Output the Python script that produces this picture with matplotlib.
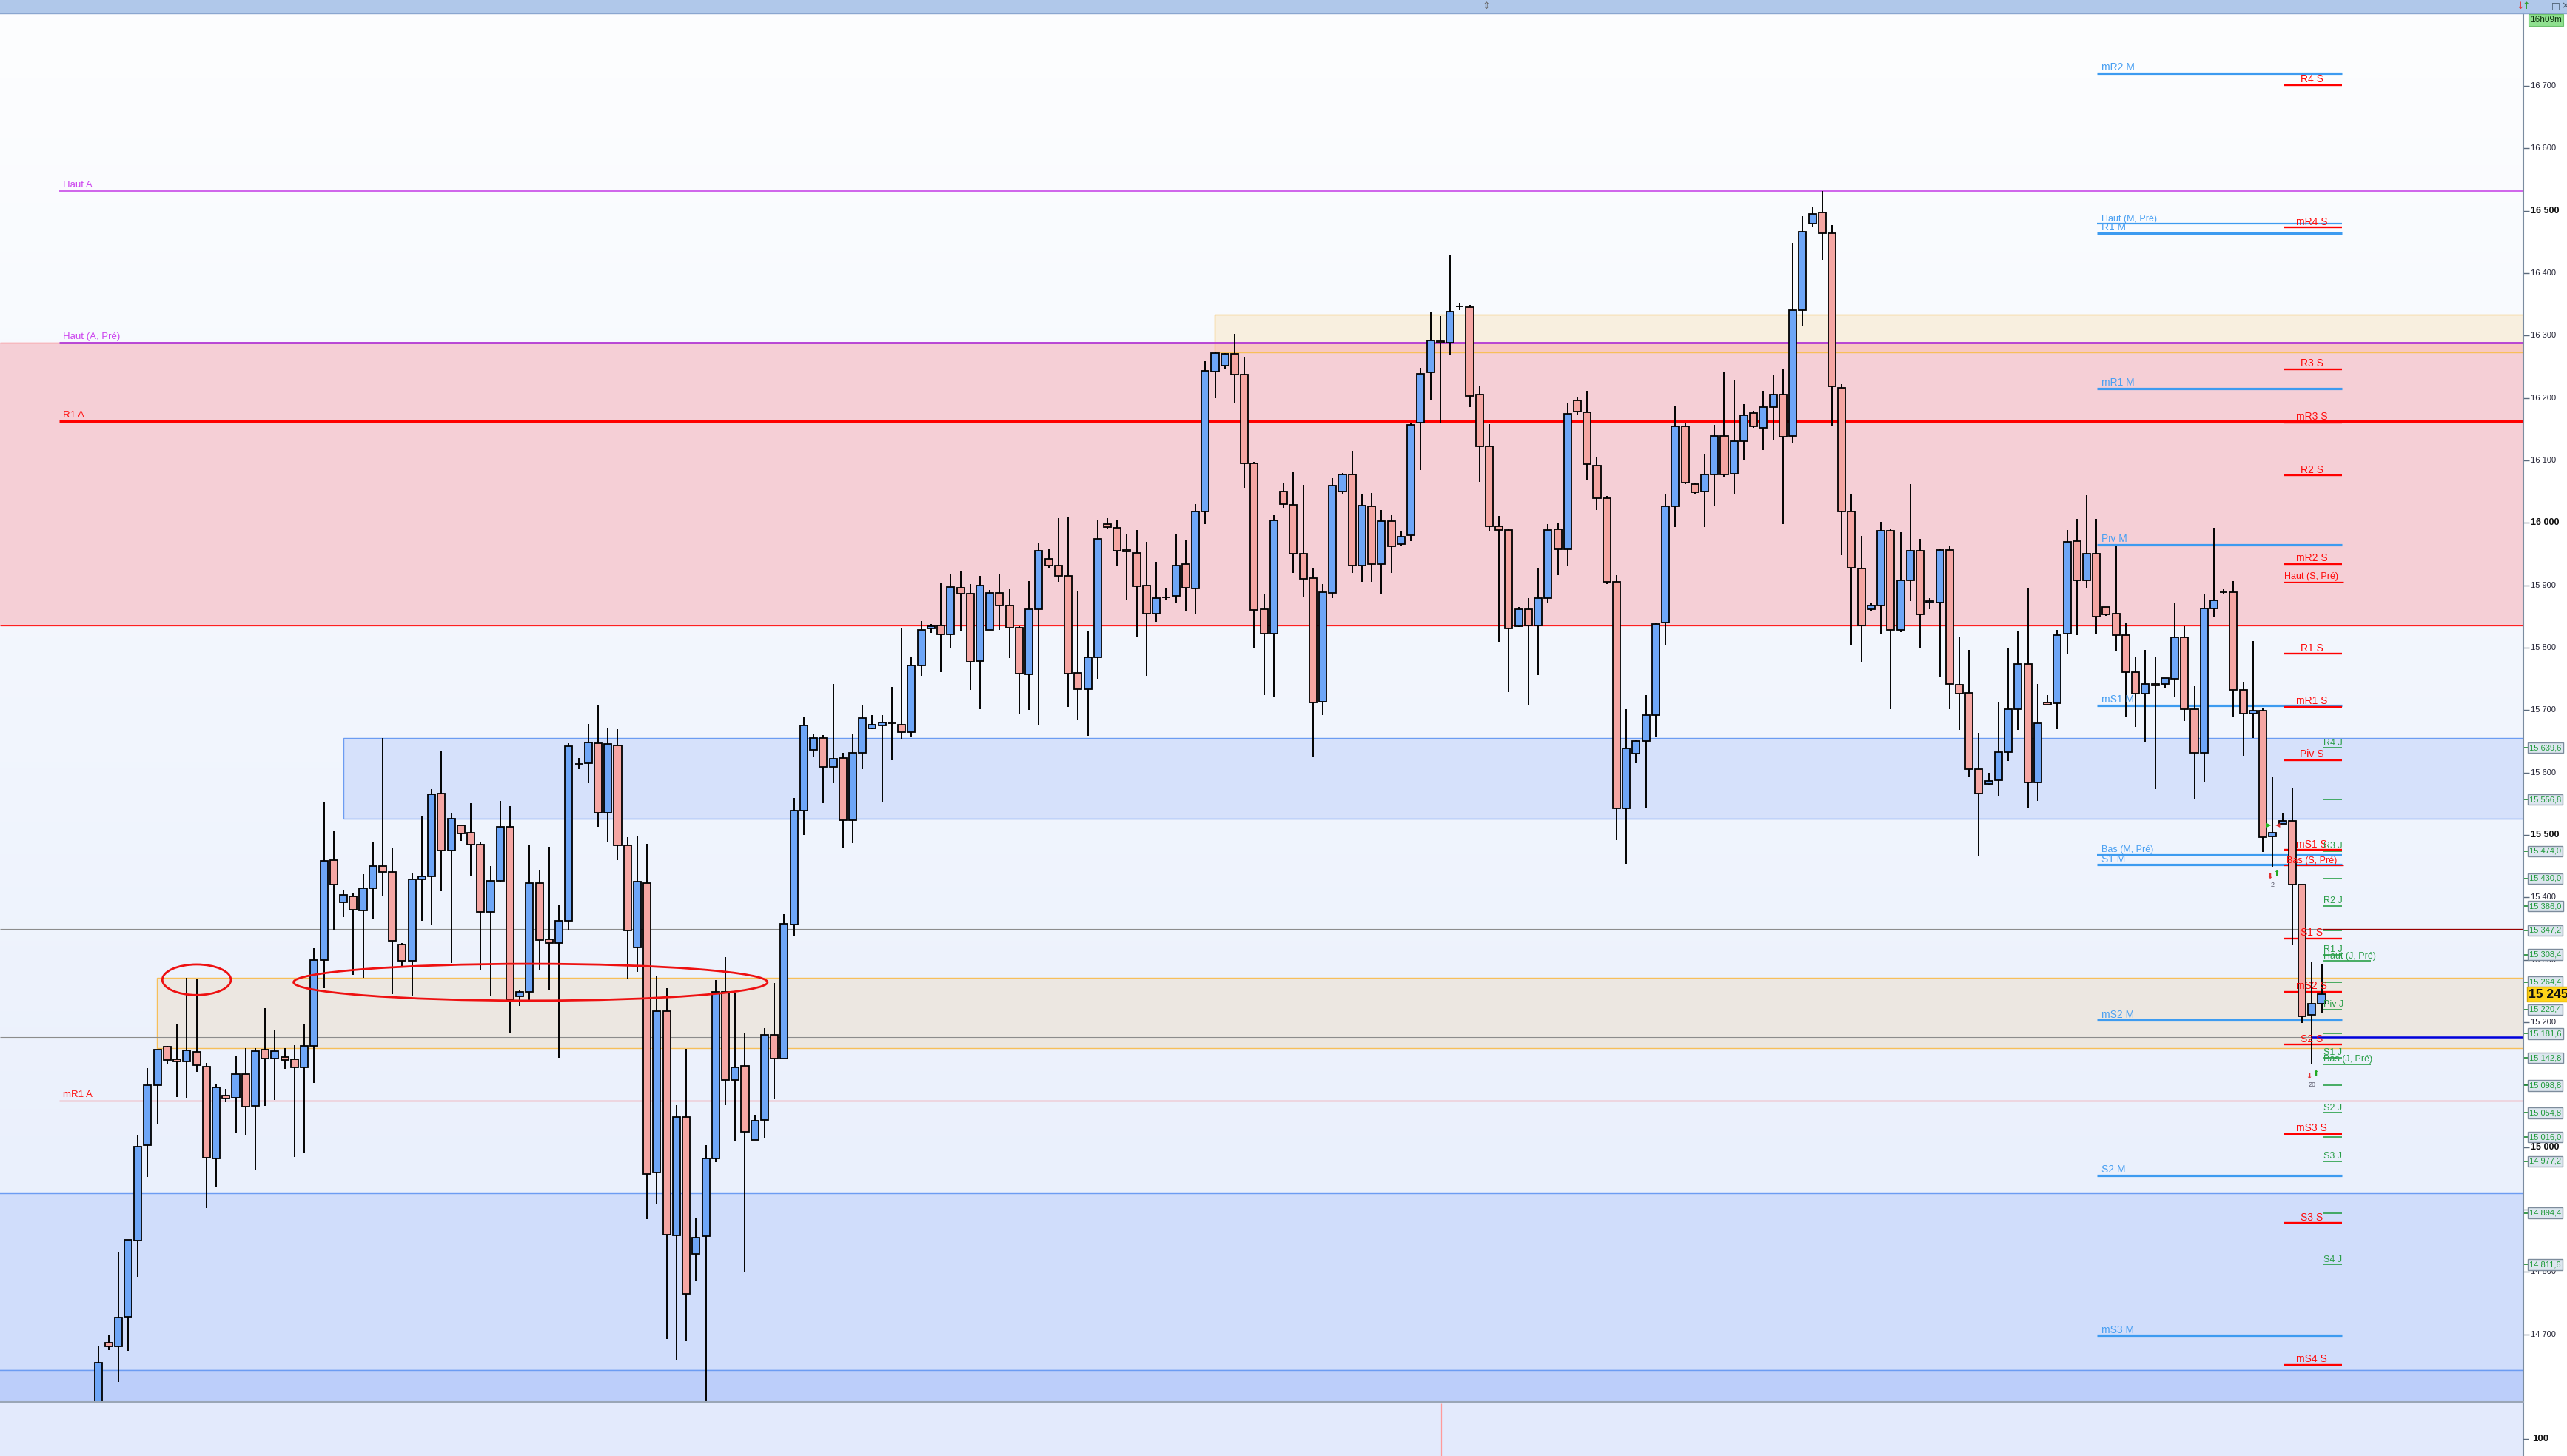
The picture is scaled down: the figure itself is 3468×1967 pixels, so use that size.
import matplotlib
matplotlib.use('Agg')
import matplotlib.pyplot as plt
from matplotlib.patches import Rectangle, Ellipse
import matplotlib.transforms as mtransforms
import numpy as np

plt.rcParams['font.family'] = ['Liberation Sans', 'DejaVu Sans']

# ---------------- DATA ----------------
opens = [14560, 14687, 14680, 14728, 14850, 15003, 15099, 15161, 15141, 15137,
         15153, 15129, 14982, 15083, 15079, 15117, 15066, 15156, 15142, 15144,
         15141, 15128, 15162, 15300, 15460, 15392, 15402, 15379, 15415, 15450,
         15441, 15325, 15298, 15429, 15434, 15566, 15475, 15515, 15503, 15484,
         15377, 15427, 15513, 15241, 15248, 15423, 15333, 15327, 15362, 15614,
         15615, 15647, 15536, 15644, 15483, 15320, 15423, 14959, 15218, 14859,
         15048, 14829, 14857, 14982, 15248, 15107, 15130, 15011, 15043, 15180,
         15142, 15357, 15539, 15636, 15655, 15609, 15623, 15524, 15631, 15671,
         15676, 15679, 15677, 15665, 15771, 15831, 15836, 15821, 15896, 15887,
         15779, 15829, 15888, 15867, 15832, 15757, 15862, 15942, 15932, 15915,
         15760, 15733, 15785, 15998, 15992, 15956, 15952, 15899, 15855, 15881,
         15883, 15934, 15895, 16018, 16242, 16252, 16271, 16238, 16095, 15862,
         15822, 16050, 16029, 15950, 15911, 15713, 15888, 16050, 16078, 15931,
         16027, 15934, 16003, 15966, 15980, 16160, 16241, 16291, 16289, 16347,
         16346, 16205, 16123, 15995, 15988, 15834, 15862, 15836, 15880, 15990,
         15958, 16196, 16177, 16092, 16039, 15906, 15543, 15630, 15651, 15692,
         15840, 16027, 16154, 16062, 16050, 16078, 16139, 16079, 16131, 16176,
         16152, 16185, 16205, 16139, 16341, 16480, 16497, 16464, 16216, 16018,
         15927, 15862, 15868, 15987, 15828, 15908, 15955, 15872, 15872, 15957,
         15741, 15728, 15606, 15582, 15588, 15633, 15701, 15774, 15584, 15712,
         15711, 15822, 15971, 15908, 15950, 15865, 15854, 15820, 15761, 15727,
         15742, 15742, 15750, 15817, 15701, 15631, 15863, 15889, 15889, 15732,
         15694, 15699, 15497, 15518, 15522, 15420, 15212, 15230]
highs = [14681, 14699, 14832, 14851, 15020, 15127, 15156, 15162, 15196, 15271,
         15269, 15135, 15101, 15093, 15147, 15159, 15159, 15222, 15188, 15159,
         15163, 15196, 15319, 15553, 15507, 15411, 15406, 15437, 15488, 15655,
         15480, 15327, 15439, 15531, 15574, 15634, 15535, 15516, 15551, 15488,
         15450, 15555, 15546, 15252, 15483, 15444, 15481, 15388, 15647, 15623,
         15678, 15708, 15672, 15670, 15496, 15497, 15486, 15273, 15255, 15067,
         15157, 14887, 15003, 15267, 15304, 15246, 15183, 15052, 15191, 15263,
         15373, 15559, 15689, 15661, 15660, 15742, 15632, 15662, 15707, 15692,
         15692, 15737, 15832, 15784, 15843, 15838, 15903, 15919, 15923, 15902,
         15915, 15892, 15919, 15894, 15834, 15907, 15968, 15958, 16008, 16010,
         15890, 15827, 16005, 16008, 16005, 15982, 15989, 15970, 15937, 15895,
         15981, 15973, 16030, 16259, 16273, 16272, 16303, 16266, 16098, 15885,
         16012, 16063, 16081, 16061, 15928, 15902, 16072, 16080, 16115, 16047,
         16048, 16021, 16012, 15986, 16161, 16248, 16338, 16331, 16429, 16352,
         16349, 16220, 16158, 16011, 15990, 15865, 15880, 15927, 15998, 16000,
         16193, 16201, 16211, 16106, 16043, 15916, 15701, 15652, 15724, 15840,
         16047, 16188, 16161, 16063, 16111, 16157, 16241, 16229, 16190, 16180,
         16211, 16238, 16246, 16449, 16491, 16505, 16532, 16477, 16222, 16047,
         15979, 15871, 16001, 15991, 15985, 16062, 15974, 15880, 15958, 15963,
         15817, 15796, 15664, 15599, 15712, 15799, 15826, 15895, 15742, 15724,
         15828, 15988, 16006, 16044, 16006, 15865, 15962, 15839, 15785, 15796,
         15786, 15751, 15871, 15834, 15738, 15885, 15992, 15894, 15907, 15746,
         15811, 15703, 15592, 15535, 15575, 15420, 15296, 15292]
lows = [14540, 14675, 14624, 14674, 14792, 14952, 15037, 15134, 15080, 15078,
        15120, 14902, 14936, 15072, 15022, 15019, 14963, 15066, 15075, 15125,
        14984, 14991, 15103, 15255, 15347, 15368, 15276, 15271, 15366, 15401,
        15245, 15289, 15243, 15362, 15355, 15410, 15295, 15491, 15434, 15283,
        15241, 15425, 15183, 15226, 15233, 15284, 15252, 15143, 15348, 15605,
        15583, 15513, 15488, 15460, 15270, 15280, 14884, 14908, 14693, 14659,
        14690, 14785, 14585, 14976, 15067, 15009, 14800, 15011, 15014, 15077,
        15142, 15337, 15500, 15624, 15551, 15583, 15479, 15487, 15606, 15669,
        15553, 15620, 15653, 15656, 15755, 15824, 15761, 15799, 15827, 15732,
        15702, 15829, 15828, 15783, 15693, 15700, 15676, 15928, 15906, 15705,
        15684, 15659, 15750, 15990, 15932, 15877, 15818, 15755, 15841, 15877,
        15872, 15858, 15854, 15998, 16200, 16246, 16191, 16056, 15799, 15724,
        15721, 16024, 15920, 15882, 15624, 15692, 15879, 16047, 15920, 15905,
        15905, 15885, 15920, 15963, 15971, 16084, 16197, 16160, 16269, 16341,
        16185, 16066, 15986, 15809, 15729, 15833, 15709, 15756, 15871, 15916,
        15932, 16174, 16068, 16020, 15902, 15492, 15454, 15615, 15544, 15657,
        15805, 15993, 16062, 16046, 15993, 16026, 16073, 16046, 16100, 16152,
        16116, 16132, 15998, 16128, 16316, 16475, 16421, 16156, 15948, 15805,
        15778, 15858, 15821, 15702, 15825, 15875, 15800, 15862, 15752, 15701,
        15668, 15593, 15467, 15580, 15562, 15618, 15668, 15543, 15555, 15707,
        15670, 15791, 15820, 15895, 15823, 15851, 15794, 15688, 15673, 15648,
        15574, 15736, 15720, 15683, 15558, 15584, 15850, 15885, 15690, 15627,
        15655, 15473, 15449, 15518, 15324, 15199, 15132, 15214]
closes = [14655, 14681, 14727, 14851, 15001, 15099, 15156, 15140, 15137, 15155,
          15131, 14983, 15095, 15078, 15117, 15065, 15154, 15142, 15154, 15140,
          15128, 15162, 15300, 15459, 15420, 15404, 15380, 15414, 15450, 15441,
          15330, 15298, 15429, 15434, 15565, 15475, 15526, 15502, 15484, 15377,
          15427, 15513, 15235, 15248, 15423, 15332, 15327, 15362, 15642, 15614,
          15648, 15536, 15646, 15483, 15347, 15425, 14957, 15218, 14860, 15048,
          14765, 14855, 14982, 15248, 15108, 15128, 15025, 15042, 15180, 15142,
          15358, 15539, 15676, 15655, 15609, 15622, 15524, 15631, 15687, 15677,
          15680, 15679, 15665, 15771, 15828, 15834, 15821, 15897, 15887, 15778,
          15900, 15888, 15867, 15832, 15758, 15862, 15955, 15931, 15915, 15759,
          15733, 15785, 15974, 15993, 15955, 15954, 15898, 15854, 15880, 15881,
          15932, 15896, 16018, 16243, 16272, 16271, 16237, 16095, 15861, 15822,
          16004, 16030, 15950, 15910, 15712, 15889, 16060, 16078, 15931, 16028,
          15934, 16003, 15963, 15978, 16157, 16239, 16292, 16289, 16338, 16347,
          16203, 16122, 15995, 15989, 15831, 15862, 15836, 15880, 15989, 15958,
          16175, 16178, 16094, 16039, 15906, 15543, 15639, 15650, 15692, 15838,
          16026, 16155, 16064, 16049, 16078, 16139, 16078, 16131, 16172, 16154,
          16185, 16206, 16138, 16341, 16466, 16495, 16464, 16218, 16018, 15928,
          15836, 15867, 15987, 15828, 15908, 15955, 15853, 15875, 15957, 15742,
          15727, 15606, 15566, 15587, 15633, 15701, 15774, 15584, 15679, 15709,
          15820, 15970, 15908, 15950, 15850, 15853, 15820, 15761, 15727, 15742,
          15740, 15751, 15817, 15701, 15631, 15863, 15876, 15889, 15732, 15694,
          15699, 15496, 15503, 15522, 15420, 15210, 15229, 15245]

annual_names = ['Haut A', 'Haut (A, Pré)', 'R1 A', 'mR1 A']
annual_values = [16532, 16289, 16163, 15074]

monthly_names = ['mR2 M', 'Haut (M, Pré)', 'R1 M', 'mR1 M', 'Piv M', 'mS1 M',
                 'Bas (M, Pré)', 'S1 M', 'mS2 M', 'S2 M', 'mS3 M']
monthly_values = [16720, 16479, 16464, 16215, 15965, 15708, 15468, 15452, 15203, 14955, 14698]

weekly_names = ['R4 S', 'mR4 S', 'R3 S', 'mR3 S', 'R2 S', 'mR2 S', 'Haut (S, Pré)',
                'R1 S', 'mR1 S', 'Piv S', 'mS1 S', 'Bas (S, Pré)', 'S1 S', 'mS2 S',
                'S2 S', 'mS3 S', 'S3 S', 'mS4 S']
weekly_values = [16701, 16473, 16246, 16161, 16076, 15934, 15906, 15790, 15705, 15620,
                 15476, 15451, 15334.5, 15249, 15164, 15021, 14878, 14651]

daily_names = ['R4 J', 'mR4 J', 'R3 J', 'mR3 J', 'R2 J', 'mR2 J', 'R1 J', 'Haut (J, Pré)',
               'mR1 J', 'Piv J', 'mS1 J', 'S1 J', 'Bas (J, Pré)', 'mS2 J', 'S2 J',
               'mS3 J', 'S3 J', 'mS4 J', 'S4 J']
daily_values = [15639.6, 15556.8, 15474.0, 15430.0, 15386.0, 15347.2, 15308.4, 15298.0,
                15264.4, 15220.4, 15181.6, 15142.8, 15132.4, 15098.8, 15054.8,
                15016.0, 14977.2, 14894.4, 14811.6]

axis_ticks = list(range(14700, 16701, 100))
last_price = 15245
timer_text = '16h09m'
lower_pane_label = '100'

# zones: (low, high)
pink_zone = (15836, 16289)
orange_zone = (16273, 16333)
blue_zone = (15526, 15655)
beige_zone = (15158, 15271)
lower_blue_zone = (14643, 14926)
gray_lines = [15349, 15176.5]

# ---------------- LAYOUT ----------------
W, H = 3468, 1967
AX_RIGHT = 3409
TOP = 18
BOT = 1894
X0, DX = 133.3, 13.23


def px2i(px):
    return (px - X0) / DX


YMIN = 16700 - (BOT - 116) / 0.8433
YMAX = 16700 + (116 - TOP) / 0.8433
XMIN, XMAX = px2i(0), px2i(AX_RIGHT)

fig = plt.figure(figsize=(W / 100, H / 100), dpi=100)
fig.patch.set_facecolor('white')
ax = fig.add_axes([0, (H - BOT) / H, AX_RIGHT / W, (BOT - TOP) / H])
ax.set_xlim(XMIN, XMAX)
ax.set_ylim(YMIN, YMAX)
for s in ax.spines.values():
    s.set_visible(False)
ax.set_xticks([])
ax.set_yticks(axis_ticks)
ax.tick_params(axis='y', left=False, right=True, labelleft=False, labelright=False,
               length=6, width=1, color='#5a6a7c')

# background gradient
grad = np.linspace(0, 1, 256)[:, None]
c_top = np.array([0.992, 0.995, 1.0])
c_bot = np.array([0.905, 0.932, 0.988])
img = c_top[None, None, :] * (1 - grad[:, :, None]) + c_bot[None, None, :] * grad[:, :, None]
ax.imshow(img, extent=[XMIN, XMAX, YMIN, YMAX], aspect='auto', origin='upper', zorder=0)

# zones
ax.add_patch(Rectangle((XMIN, pink_zone[0]), XMAX - XMIN, pink_zone[1] - pink_zone[0],
                       fc='#f5cfd6', ec='none', zorder=1))
ax.add_patch(Rectangle((px2i(1641), orange_zone[0]), XMAX - px2i(1641), orange_zone[1] - orange_zone[0],
                       fc='#f8efdf', ec='none', zorder=1.1))
ax.add_patch(Rectangle((px2i(1641), orange_zone[0]), XMAX - px2i(1641), pink_zone[1] - orange_zone[0],
                       fc='#f8c9c0', ec='none', zorder=1.2))
ax.add_patch(Rectangle((XMIN, orange_zone[0]), px2i(1641) - XMIN, pink_zone[1] - orange_zone[0],
                       fc='#f5cfd6', ec='none', zorder=1.2))
ax.add_patch(Rectangle((px2i(1641), orange_zone[0]), XMAX - px2i(1641) + 5, orange_zone[1] - orange_zone[0],
                       fc='none', ec='#f7bf5a', lw=1.0, zorder=1.3))
ax.hlines(pink_zone[1], XMIN, XMAX, color='#ff2020', lw=0.9, zorder=1.4)
ax.hlines(pink_zone[0], XMIN, XMAX, color='#ff2020', lw=0.9, zorder=1.4)

ax.add_patch(Rectangle((px2i(464), blue_zone[0]), XMAX - px2i(464) + 5, blue_zone[1] - blue_zone[0],
                       fc='#d6e1fb', ec='#6c9cf2', lw=1.0, zorder=1))
ax.add_patch(Rectangle((px2i(212), beige_zone[0]), XMAX - px2i(212) + 5, beige_zone[1] - beige_zone[0],
                       fc='#ece7e1', ec='#f7bf5a', lw=1.0, zorder=1))
ax.add_patch(Rectangle((XMIN - 5, lower_blue_zone[0]), XMAX - XMIN + 10, lower_blue_zone[1] - lower_blue_zone[0],
                       fc='#d0ddfb', ec='#6c9cf2', lw=1.0, zorder=1))
ax.add_patch(Rectangle((XMIN - 5, YMIN - 50), XMAX - XMIN + 10, lower_blue_zone[0] - YMIN + 50,
                       fc='#bccefa', ec='#6c9cf2', lw=1.0, zorder=1))

# gray full-width lines with colored right ends
ax.hlines(gray_lines[0], XMIN, XMAX, color='#8c8c8c', lw=0.8, zorder=2)
ax.hlines(gray_lines[1], XMIN, XMAX, color='#8c8c8c', lw=0.8, zorder=2)
ax.hlines(gray_lines[0], px2i(3138), XMAX, color='#990000', lw=0.9, zorder=2.1)
ax.hlines(gray_lines[1], px2i(3123), XMAX, color='#0000dd', lw=1.8, zorder=2.1)

# annual levels
ann_style = {'Haut A': ('#c84ae8', 1.2), 'Haut (A, Pré)': ('#b23ad6', 2.0),
             'R1 A': ('#ff0000', 2.2), 'mR1 A': ('#ff2020', 0.9)}
for name, v in zip(annual_names, annual_values):
    col, lw = ann_style[name]
    ax.hlines(v, px2i(80), XMAX, color=col, lw=lw, zorder=2.2)
    tcol = '#cc44ee' if name.startswith('Haut') else '#ff1010'
    ax.annotate(name, (px2i(85), v), xytext=(0, 1.5), textcoords='offset points',
                va='bottom', ha='left', fontsize=9.5, color=tcol, zorder=6)

# monthly levels
for name, v in zip(monthly_names, monthly_values):
    pre = 'Pré' in name
    ax.hlines(v, px2i(2833), px2i(3164), color='#3d9bf0', lw=1.6 if pre else 2.3, zorder=2.3)
    ax.annotate(name, (px2i(2839), v), xytext=(0, 0.5), textcoords='offset points',
                va='bottom', ha='left', fontsize=9 if pre else 10, color='#4aa0f2', zorder=6)

# weekly levels
for name, v in zip(weekly_names, weekly_values):
    thin = 'Pré' in name
    ax.hlines(v, px2i(3085), px2i(3166 if thin else 3164), color='#ff0000',
              lw=0.9 if thin else 1.7, zorder=2.4)
    ax.annotate(name, (px2i(3123), v), xytext=(0, 0.5), textcoords='offset points',
                va='bottom', ha='center', fontsize=9 if thin else 10, color='#ff0a0a', zorder=6)

# daily levels
for name, v in zip(daily_names, daily_values):
    right = px2i(3203) if 'Pré' in name else px2i(3164)
    ax.hlines(v, px2i(3138), right, color='#1a9a3a', lw=1.1, zorder=2.5)
    if not name.startswith('m'):
        ax.annotate(name, (px2i(3139), v), xytext=(0, 0.5), textcoords='offset points',
                    va='bottom', ha='left', fontsize=9, color='#2a9e48', zorder=6)

# candles
idx = np.arange(len(opens))
o = np.array(opens, float)
c = np.array(closes, float)
up = c >= o
ax.vlines(idx, lows, highs, color='black', lw=1.4, zorder=4)
body_h = c - o
ax.bar(idx[up], body_h[up], bottom=o[up], width=0.76, color='#6ea6f7',
       edgecolor='black', linewidth=1.3, zorder=5)
ax.bar(idx[~up], body_h[~up], bottom=o[~up], width=0.76, color='#f5a6a3',
       edgecolor='black', linewidth=1.3, zorder=5)

# ellipses
ax.add_patch(Ellipse((44.1, 15264), 48.4, 59, fc='none', ec='#ee1111', lw=2.0, zorder=7))
ax.add_patch(Ellipse((10.0, 15268), 7.0, 49, fc='none', ec='#ee1111', lw=2.0, zorder=7))

# small signal markers
ax.text(221.7, 15434, '⬇', color='#e03030', fontsize=7, ha='center', va='center', family='DejaVu Sans', zorder=8)
ax.text(222.4, 15438, '⬆', color='#22aa22', fontsize=7, ha='center', va='center', family='DejaVu Sans', zorder=8)
ax.text(222.0, 15420, '2', color='#555566', fontsize=6.5, ha='center', va='center', zorder=8)
ax.text(225.7, 15114, '⬇', color='#e03030', fontsize=7, ha='center', va='center', family='DejaVu Sans', zorder=8)
ax.text(226.4, 15118, '⬆', color='#22aa22', fontsize=7, ha='center', va='center', family='DejaVu Sans', zorder=8)
ax.text(226.0, 15100, '20', color='#555566', fontsize=6.5, ha='center', va='center', zorder=8)
ax.text(px2i(3065), 15516, '▶', color='#22bb22', fontsize=6, ha='center', va='center', family='DejaVu Sans', zorder=8)
ax.text(px2i(3077), 15516, '◀', color='#dd3030', fontsize=6, ha='center', va='center', family='DejaVu Sans', zorder=8)

# ---------------- RIGHT AXIS ----------------
btr = mtransforms.blended_transform_factory(fig.transFigure, ax.transData)
boxed = [v for n, v in zip(daily_names, daily_values) if 'Pré' not in n]
xl = 3419 / W
for v in axis_ticks:
    # labels fully covered by a boxed level label are not drawn
    if min(abs(v - b) for b in boxed) < 6:
        continue
    bold = (v % 500 == 0)
    ax.text(xl, v, f'{v:,}'.replace(',', ' '), transform=btr, ha='left', va='center',
            fontsize=9 if bold else 8, fontweight='bold' if bold else 'normal',
            color='#111111' if bold else '#222233', clip_on=False, zorder=10)

for v in boxed:
    ax.plot([AX_RIGHT / W, 3415 / W], [v, v], transform=btr, color='#1a8a30', lw=1.2, clip_on=False, zorder=10)
    lab = f'{v:,.1f}'.replace(',', ' ').replace('.', ',')
    ax.text(3417 / W, v, lab, transform=btr, ha='left', va='center', fontsize=8,
            color='#1f9a3a', clip_on=False, zorder=11,
            bbox=dict(boxstyle='square,pad=0.2', fc='#dde6ef', ec='#7d8c9c', lw=1.0))

ax.text(3416 / W, last_price, f'{last_price:,}'.replace(',', ' ') + ',', transform=btr,
        ha='left', va='center', fontsize=12.5, fontweight='bold', color='#111111', clip_on=False,
        zorder=12, bbox=dict(boxstyle='square,pad=0.12', fc='#ffd21a', ec='#d4a800', lw=1.0))

# axis line
fig.add_artist(plt.Line2D([AX_RIGHT / W, AX_RIGHT / W], [0, (H - TOP) / H], color='#7b8ca0', lw=1.5))

# ---------------- LOWER PANE ----------------
ax2 = fig.add_axes([0, 0, AX_RIGHT / W, (H - BOT - 2) / H])
ax2.set_facecolor('#e3eafc')
ax2.set_xlim(XMIN, XMAX)
ax2.set_ylim(0, 1)
ax2.set_xticks([])
ax2.set_yticks([])
for s in ax2.spines.values():
    s.set_visible(False)
ax2.vlines(px2i(1947), 0, 1, color='#ff9a9a', lw=0.9)
fig.add_artist(plt.Line2D([0, AX_RIGHT / W], [(H - BOT) / H, (H - BOT) / H], color='#9aa6b6', lw=1.5))
fig.add_artist(plt.Line2D([AX_RIGHT / W, 3415 / W], [(H - 1944) / H, (H - 1944) / H], color='#5a6a7c', lw=1))
fig.text(3421 / W, (H - 1944) / H, lower_pane_label, ha='left', va='center', fontsize=9.5,
         fontweight='bold', color='#111111')

# ---------------- TITLE BAR ----------------
fig.add_artist(Rectangle((0, (H - TOP) / H), 1, TOP / H, transform=fig.transFigure,
                         fc='#b0c8ea', ec='none'))
fig.add_artist(plt.Line2D([0, 1], [(H - TOP) / H, (H - TOP) / H], color='#8aa6d0', lw=1))
fig.text(2008 / W, (H - 9) / H, '⇕', ha='center', va='center', fontsize=9, color='#666666',
         family='DejaVu Sans')
fig.text(3405 / W, (H - 8) / H, '↓', ha='center', va='center', fontsize=9, color='#e04040',
         family='DejaVu Sans', fontweight='bold')
fig.text(3413 / W, (H - 8) / H, '↑', ha='center', va='center', fontsize=9, color='#30a030',
         family='DejaVu Sans', fontweight='bold')
fig.text(3437 / W, (H - 8) / H, '_', ha='center', va='center', fontsize=9, color='#445566',
         family='DejaVu Sans')
fig.text(3453 / W, (H - 8) / H, '□', ha='center', va='center', fontsize=9, color='#445566',
         family='DejaVu Sans')
fig.text(3466 / W, (H - 8) / H, '×', ha='center', va='center', fontsize=9, color='#445566',
         family='DejaVu Sans')

fig.text(3418 / W, (H - 27) / H, timer_text, ha='left', va='center', fontsize=8.5, color='#113311',
         bbox=dict(boxstyle='square,pad=0.15', fc='#8fe08f', ec='#6cc06c', lw=0.8))

fig.savefig('out.png', dpi=100, facecolor='white')
